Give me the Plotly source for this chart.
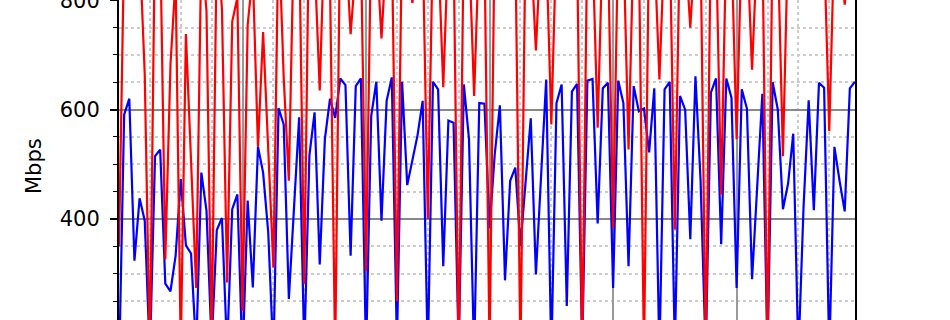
import plotly.graph_objects as go

# sample index (hours)
hours = list(range(144))

blue_mbps = [
    120, 591, 620, 324, 438, 397, 150, 515, 527, 282, 268, 333, 473, 352, 337, 160,
    485, 415, 170, 380, 402, 160, 418, 445, 140, 434, 275, 532, 485, 375, 150, 603,
    573, 254, 420, 586, 160, 517, 595, 317, 546, 620, 585, 657, 645, 333, 643, 657,
    150, 588, 651, 397, 616, 659, 170, 651, 462, 505, 553, 616, 150, 651, 637, 314,
    580, 576, 160, 646, 546, 150, 612, 611, 384, 518, 608, 288, 470, 494, 351, 468,
    584, 299, 477, 655, 150, 612, 646, 241, 633, 647, 160, 653, 656, 392, 639, 649,
    274, 653, 612, 314, 643, 597, 602, 522, 639, 150, 637, 651, 160, 625, 600, 363,
    661, 470, 150, 631, 657, 354, 657, 622, 274, 637, 602, 290, 460, 629, 150, 650,
    600, 418, 465, 556, 150, 421, 617, 416, 649, 640, 150, 532, 470, 414, 639, 651,
]

red_mbps = [
    350, 900, 920, 910, 900, 665, 150, 940, 920, 326, 682, 840, 160, 738, 506, 274,
    898, 780, 170, 910, 785, 284, 761, 805, 232, 755, 850, 532, 742, 526, 311, 935,
    659, 470, 932, 920, 282, 1000, 875, 635, 948, 830, 150, 960, 909, 738, 862, 900,
    305, 930, 900, 730, 900, 920, 250, 930, 880, 795, 870, 910, 400, 920, 900, 641,
    910, 900, 150, 930, 900, 625, 910, 900, 160, 930, 910, 920, 900, 910, 150, 930,
    900, 708, 910, 900, 573, 920, 910, 900, 920, 900, 150, 930, 900, 567, 920, 900,
    384, 930, 910, 527, 920, 900, 150, 930, 900, 655, 910, 920, 381, 930, 900, 750,
    910, 900, 150, 930, 910, 445, 920, 900, 546, 920, 910, 673, 900, 920, 150, 930,
    900, 515, 920, 910, 900, 920, 910, 900, 920, 900, 561, 920, 900, 792, 910, 920,
]

y_ticks = [200, 400, 600, 800]
y_tick_text = ["200", "400", "600", "800"]
y_minor_ticks = [250, 300, 350, 450, 500, 550, 650, 700, 750]

fig = go.Figure()
fig.add_trace(go.Scatter(x=hours, y=blue_mbps, mode="lines",
                         line=dict(color="#0000ff", width=2.2), name="blue"))
fig.add_trace(go.Scatter(x=hours, y=red_mbps, mode="lines",
                         line=dict(color="#ff0000", width=2.2), name="red"))

font = dict(family="DejaVu Sans", size=21, color="black")

fig.update_layout(
    width=950, height=320,
    margin=dict(l=119, r=95, t=0, b=0, autoexpand=False),
    plot_bgcolor="white", paper_bgcolor="white",
    showlegend=False,
    xaxis=dict(
        range=[0, 143], tick0=0, dtick=24, automargin=False,
        showgrid=True, gridcolor="#999999", gridwidth=1.5,
        showticklabels=False, ticks="", showline=False, zeroline=False,
        minor=dict(dtick=6, tick0=0, showgrid=True, gridcolor="#cccccc",
                   griddash="dot", gridwidth=1.5),
    ),
    yaxis=dict(
        range=[215.5, 800.4], automargin=False,
        tickmode="array", tickvals=y_ticks, ticktext=y_tick_text,
        showgrid=True, gridcolor="#888888", gridwidth=1.5,
        showline=True, linecolor="black", linewidth=2, mirror=True,
        ticks="outside", ticklen=7, tickwidth=1.5, tickcolor="black",
        tickfont=font, zeroline=False,
        ticklabelstandoff=6, ticklabeloverflow="allow",
        minor=dict(tickmode="array", tickvals=y_minor_ticks,
                   ticks="outside", ticklen=4, tickcolor="black", tickwidth=1,
                   showgrid=True, gridcolor="#cccccc", griddash="dot", gridwidth=1.5),
    ),
    annotations=[dict(text="Mbps", font=font, textangle=-90,
                      xref="paper", yref="paper",
                      x=(34 - 119) / 736, y=(320 - 166) / 320,
                      xanchor="center", yanchor="middle", showarrow=False)],
)

fig.write_html("out.html")
